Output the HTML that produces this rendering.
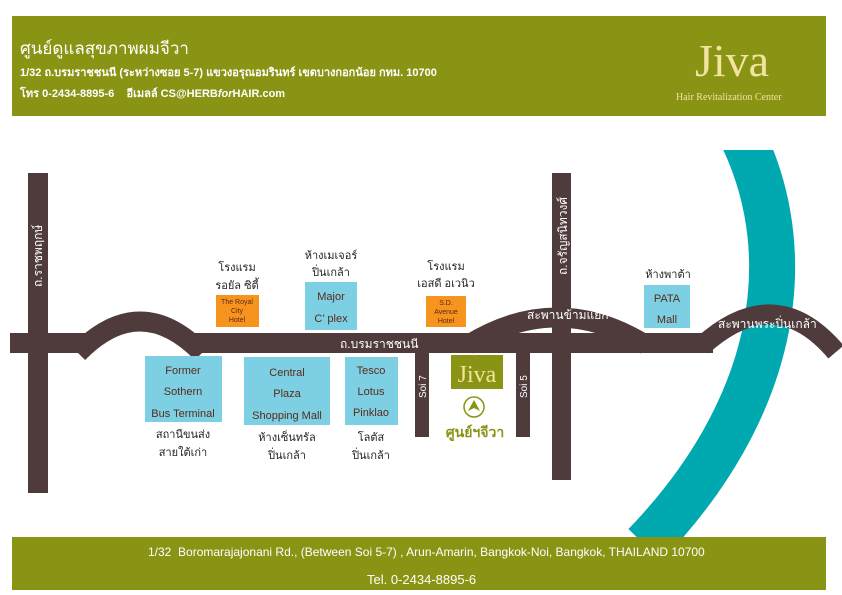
<!DOCTYPE html>
<html><head><meta charset="utf-8"><style>
html,body{margin:0;padding:0;background:#fff;}
body{width:842px;height:595px;overflow:hidden;position:relative;font-family:"Liberation Sans",sans-serif;}
</style></head><body>
<svg width="842" height="595" viewBox="0 0 842 595" xmlns="http://www.w3.org/2000/svg" style="position:absolute;left:0;top:0">
<defs><clipPath id="rc"><rect x="0" y="150" width="842" height="387"/></clipPath></defs>
<!-- header -->
<rect x="12" y="16" width="814" height="100" fill="#8a9414"/>
<text x="20" y="54" font-size="17" fill="#fff" font-family="Liberation Sans, sans-serif">ศูนย์ดูแลสุขภาพผมจีวา</text>
<text x="20" y="76" font-size="11" fill="#fff" font-weight="bold">1/32 ถ.บรมราชชนนี (ระหว่างซอย 5-7) แขวงอรุณอมรินทร์ เขตบางกอกน้อย กทม. 10700</text>
<text x="20" y="97" font-size="11" fill="#fff" font-weight="bold">โทร 0-2434-8895-6 &#160;&#160;&#160;อีเมลล์ CS@HERB<tspan font-style="italic">for</tspan>HAIR.com</text>
<text x="695" y="76" font-size="46" fill="#f3e3a0" font-family="Liberation Serif, serif">Jiva</text>
<text x="676" y="100" font-size="10" fill="#f3e3a0" font-family="Liberation Serif, serif">Hair Revitalization Center</text>

<!-- river -->
<path d="M744 140 C 800 260, 775 410, 645 545" stroke="#00a8b0" stroke-width="46" fill="none" clip-path="url(#rc)"/>

<!-- roads -->
<g fill="#4f3b3b" stroke="none">
<rect x="28" y="173" width="20" height="320"/>
<rect x="552" y="173" width="19" height="307"/>
<rect x="10" y="333" width="75" height="20"/>
<rect x="195" y="333" width="518" height="20"/>
<rect x="415" y="353" width="14" height="84"/>
<rect x="516" y="353" width="14" height="84"/>
</g>
<g stroke="#4f3b3b" stroke-width="20" fill="none">
<path d="M78 353 Q 140 290 202 353"/>
<path d="M468 345 Q 557 290 646 345"/>
<path d="M702 346 Q 775 280 836 352"/>
</g>

<!-- road labels -->
<text transform="translate(42,287) rotate(-90)" font-size="12" fill="#fff">ถ.ราชพฤกษ์</text>
<text transform="translate(567,275) rotate(-90)" font-size="12" fill="#fff">ถ.จรัญสนิทวงศ์</text>
<text x="340" y="348" font-size="12" fill="#fff">ถ.บรมราชชนนี</text>
<text x="527" y="319" font-size="12" fill="#fff">สะพานข้ามแยก</text>
<text x="718" y="328" font-size="12" fill="#fff">สะพานพระปิ่นเกล้า</text>
<text transform="translate(426,398) rotate(-90)" font-size="10" fill="#fff">Soi 7</text>
<text transform="translate(527,398) rotate(-90)" font-size="10" fill="#fff">Soi 5</text>

<!-- blue boxes -->
<g fill="#7dd0e4">
<rect x="305" y="282" width="52" height="48"/>
<rect x="644" y="285" width="46" height="43"/>
<rect x="145" y="356" width="77" height="66"/>
<rect x="244" y="357" width="86" height="68"/>
<rect x="345" y="357" width="53" height="68"/>
</g>
<g fill="#f7941d">
<rect x="216" y="295" width="43" height="32"/>
<rect x="426" y="296" width="40" height="31"/>
</g>
<g font-size="11" fill="#5a2a1a" text-anchor="middle">
<text x="331" y="300">Major</text><text x="331" y="322">C’ plex</text>
<text x="667" y="302">PATA</text><text x="667" y="323">Mall</text>
<text x="183" y="374">Former</text><text x="183" y="395">Sothern</text><text x="183" y="417">Bus Terminal</text>
<text x="287" y="376">Central</text><text x="287" y="397">Plaza</text><text x="287" y="419">Shopping Mall</text>
<text x="371" y="374">Tesco</text><text x="371" y="395">Lotus</text><text x="371" y="416">Pinklao</text>
</g>
<g font-size="7" fill="#5a2a1a" text-anchor="middle">
<text x="237" y="304">The Royal</text><text x="237" y="313">City</text><text x="237" y="322">Hotel</text>
<text x="446" y="305">S.D.</text><text x="446" y="314">Avenue</text><text x="446" y="323">Hotel</text>
</g>
<g font-size="11" fill="#222" text-anchor="middle">
<text x="237" y="271">โรงแรม</text><text x="237" y="289">รอยัล ซิตี้</text>
<text x="331" y="259">ห้างเมเจอร์</text><text x="331" y="276">ปิ่นเกล้า</text>
<text x="446" y="270">โรงแรม</text><text x="446" y="287">เอสดี อเวนิว</text>
<text x="668" y="278">ห้างพาต้า</text>
<text x="183" y="438">สถานีขนส่ง</text><text x="183" y="456">สายใต้เก่า</text>
<text x="287" y="441">ห้างเซ็นทรัล</text><text x="287" y="459">ปิ่นเกล้า</text>
<text x="371" y="441">โลตัส</text><text x="371" y="459">ปิ่นเกล้า</text>
</g>

<!-- Jiva marker -->
<rect x="451" y="355" width="52" height="34" fill="#8a9414"/>
<text x="477" y="382" font-size="24" fill="#f3e3a0" text-anchor="middle" font-family="Liberation Serif, serif">Jiva</text>
<circle cx="474" cy="407" r="10" fill="none" stroke="#8a9414" stroke-width="1.5"/>
<path d="M474 400 L480 411 L474 408 L468 411 Z" fill="#8a9414"/>
<text x="475" y="437" font-size="14" font-weight="bold" fill="#8a9414" text-anchor="middle">ศูนย์ฯจีวา</text>

<!-- footer -->
<rect x="12" y="537" width="814" height="53" fill="#8a9414"/>
<text x="148" y="556" font-size="12" fill="#fff">1/32 &#160;Boromarajajonani Rd., (Between Soi 5-7) , Arun-Amarin, Bangkok-Noi, Bangkok, THAILAND 10700</text>
<text x="367" y="584" font-size="13" fill="#fff">Tel. 0-2434-8895-6</text>
</svg>
</body></html>
